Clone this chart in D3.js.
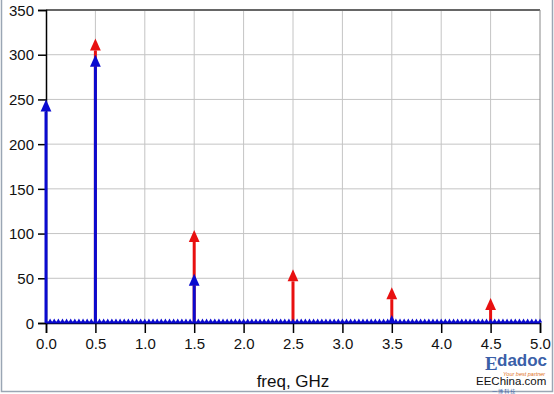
<!DOCTYPE html>
<html>
<head>
<meta charset="utf-8">
<script src="https://cdn.jsdelivr.net/npm/d3@7"></script>
<style>
  body { margin: 0; background: #fff; }
  svg { display: block; font-family: Arial, "Liberation Sans", sans-serif; }
</style>
</head>
<body>
<svg id="chart" width="554" height="394"></svg>
<script>
(function () {
  // Spectrum bins, 0 to 5 GHz (bin width 0.5/12 GHz).
  let binWidth = 0.5 / 12;
  let blueValues = [
    250, 0, 0, 0, 0, 0, 0, 0, 0, 0, 0, 0,
    300, 0, 0, 0, 0, 0, 0, 0, 0, 0, 0, 0,
    0, 0, 0, 0, 0, 0, 0, 0, 0, 0, 0, 0,
    55, 0, 0, 0, 0, 0, 0, 0, 0, 0, 0, 0,
    0, 0, 0, 0, 0, 0, 0, 0, 0, 0, 0, 0,
    0, 0, 0, 0, 0, 0, 0, 0, 0, 0, 0, 0,
    0, 0, 0, 0, 0, 0, 0, 0, 0, 0, 0, 0,
    9, 0, 0, 0, 0, 0, 0, 0, 0, 0, 0, 0,
    0, 0, 0, 0, 0, 0, 0, 0, 0, 0, 0, 0,
    0, 0, 0, 0, 0, 0, 0, 0, 0, 0, 0, 0,
    0
  ];
  let redFreqs = [0.5, 1.5, 2.5, 3.5, 4.5];
  let redValues = [318, 104, 60, 40, 28];
  let xTicks = [0, 0.5, 1, 1.5, 2, 2.5, 3, 3.5, 4, 4.5, 5];
  let yTicks = [0, 50, 100, 150, 200, 250, 300, 350];

  let margin = { top: 10, right: 14, bottom: 71, left: 46 },
    width = 554 - margin.left - margin.right,
    height = 394 - margin.top - margin.bottom;

  let svg = d3.select("#chart");

  // Outer frame of the picture.
  svg.append("path")
    .attr("d", "M1.5,0 V391.5 H552.5 V0")
    .attr("fill", "none")
    .attr("stroke", "#9aa6b4")
    .attr("stroke-width", 1.5);

  let g = svg.append("g")
    .attr("transform", `translate(${margin.left},${margin.top})`);

  let x = d3.scaleLinear().domain([0, 5]).range([0, width]);
  let y = d3.scaleLinear().domain([0, 350]).range([height, 0]);

  // Grid lines.
  g.append("g")
    .selectAll("line")
    .data(xTicks.slice(1, -1))
    .enter().append("line")
    .attr("x1", (d) => x(d)).attr("x2", (d) => x(d))
    .attr("y1", 0).attr("y2", height)
    .attr("stroke", "#c4c4c4").attr("stroke-width", 1);
  g.append("g")
    .selectAll("line")
    .data(yTicks.slice(1, -1))
    .enter().append("line")
    .attr("x1", 0).attr("x2", width)
    .attr("y1", (d) => y(d)).attr("y2", (d) => y(d))
    .attr("stroke", "#c4c4c4").attr("stroke-width", 1);

  // Top and right borders.
  g.append("line")
    .attr("x1", 0).attr("x2", width).attr("y1", 0).attr("y2", 0)
    .attr("stroke", "#666").attr("stroke-width", 2);
  g.append("line")
    .attr("x1", width).attr("x2", width).attr("y1", 0).attr("y2", height)
    .attr("stroke", "#888").attr("stroke-width", 1);

  // Axes.
  let xAxis = g.append("g")
    .attr("transform", `translate(0,${height})`)
    .call(d3.axisBottom(x).tickValues(xTicks).tickFormat(d3.format(".1f"))
      .tickSize(10).tickPadding(5));
  let yAxis = g.append("g")
    .call(d3.axisLeft(y).tickValues(yTicks).tickSize(8).tickPadding(4));
  [xAxis, yAxis].forEach((a) => {
    a.select(".domain").attr("stroke", "#000").attr("stroke-width", 1.5);
    a.selectAll(".tick line").attr("stroke", "#000").attr("stroke-width", 1.5);
    a.selectAll("text").attr("font-size", 15).attr("fill", "#111")
      .attr("font-family", "Arial, 'Liberation Sans', sans-serif");
  });
  yAxis.selectAll("text").attr("dy", "0.35em");

  // Axis title.
  svg.append("text")
    .attr("x", margin.left + width / 2)
    .attr("y", 387)
    .attr("text-anchor", "middle")
    .attr("font-size", 17)
    .attr("fill", "#111")
    .text("freq, GHz");

  // Draw one spectral arrow: stem and triangular head.
  function arrows(sel, data, color, fx, fv) {
    let items = sel.selectAll("g").data(data).enter().append("g");
    items.each(function (d, i) {
      let px = x(fx(d, i)), tip = y(fv(d, i)), base = y(0);
      let len = base - tip;
      let head = Math.min(12, Math.max(4, len));
      let half = len > 0 ? head * 0.45 : 2.2;
      let top = len > 0 ? tip : base - head - 0.5;
      let node = d3.select(this);
      if (len > head) {
        node.append("line")
          .attr("x1", px).attr("x2", px)
          .attr("y1", base).attr("y2", top + head)
          .attr("stroke", color).attr("stroke-width", 3);
      }
      node.append("path")
        .attr("d", `M${px},${top} L${px + half},${top + head} L${px - half},${top + head} Z`)
        .attr("fill", color);
    });
  }

  let red = "#e81010", blue = "#0a0ad0";

  arrows(g.append("g"), redValues, red, (d, i) => redFreqs[i], (d) => d);

  // Blue zero line under the bin markers.
  g.append("line")
    .attr("x1", 0).attr("x2", width)
    .attr("y1", height - 0.5).attr("y2", height - 0.5)
    .attr("stroke", blue).attr("stroke-width", 2);
  arrows(g.append("g"), blueValues, blue, (d, i) => i * binWidth, (d) => d);

  // Watermark.
  let wm = svg.append("g").attr("font-family", "Arial, 'Liberation Sans', sans-serif");
  wm.append("text").attr("x", 485).attr("y", 370)
    .attr("font-size", 19).attr("font-weight", "bold").attr("fill", "#3a5fa8")
    .attr("font-family", "'Liberation Serif', serif").text("E");
  wm.append("text").attr("x", 497).attr("y", 366)
    .attr("font-size", 17).attr("font-weight", "bold").attr("fill", "#3a5fa8")
    .text("dadoc");
  wm.append("text").attr("x", 503).attr("y", 376)
    .attr("font-size", 5.5).attr("font-style", "italic").attr("fill", "#e07020")
    .text("Your best partner");
  wm.append("text").attr("x", 476).attr("y", 385)
    .attr("font-size", 11.5).attr("fill", "#111").text("EEChina.com");
  wm.append("text").attr("x", 492).attr("y", 392.8)
    .attr("font-size", 5).attr("fill", "#3a5fa8")
    .attr("font-family", "'Noto Sans CJK SC', sans-serif").text("一 博  科  技");
})();
</script>
</body>
</html>
